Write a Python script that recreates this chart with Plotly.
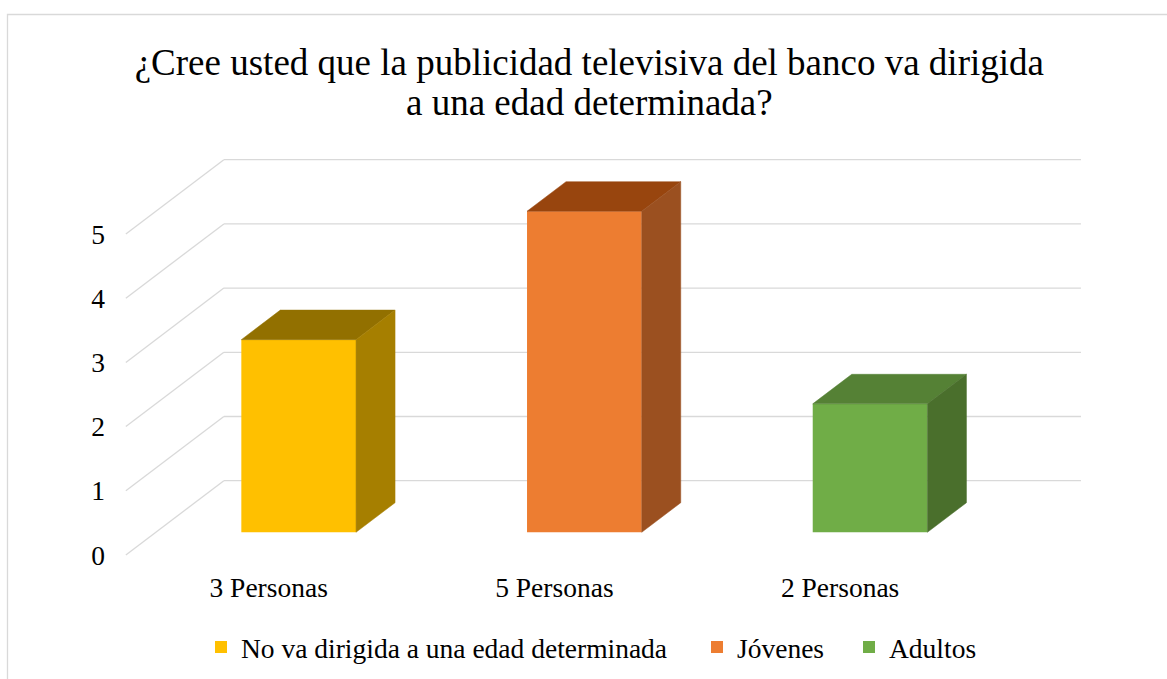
import plotly.graph_objects as go

# ---- data ----
categories = ["3 Personas", "5 Personas", "2 Personas"]
series_names = ["No va dirigida a una edad determinada", "Jóvenes", "Adultos"]
values = [3, 5, 2]
y_ticks = [0, 1, 2, 3, 4, 5]
front_colors = ["#FFC000", "#ED7D31", "#70AD47"]
top_colors = ["#927000", "#98450E", "#558135"]
side_colors = ["#A67F00", "#9B5020", "#4A6F2C"]

FONT = "Liberation Serif"
GRID = "#D9D9D9"
TXT = 27.5

# ---- layout geometry (pixels) ----
W, H = 1167, 679
L, R, T, B = 112, 1100, 130, 568
PX_X = 285.7   # px per category step
PX_Y = 64.2    # px per value unit
X0_PX = 268.7  # pixel of category 0 on front plane
Y0_PX = 555.0  # pixel of value 0 on front plane

x_range = [(L - X0_PX) / PX_X, (R - X0_PX) / PX_X]
y_range = [(Y0_PX - B) / PX_Y, (Y0_PX - T) / PX_Y]

# 3-D depth in data units
DEPTH_X = 98.0 / PX_X
DEPTH_Y = 74.3 / PX_Y
F_FRONT = 0.306
F_BACK = 0.704
BAR_W = 0.4015

pw, ph = R - L, B - T
legend_ids = ["legend", "legend2", "legend3"]
legend_left_px = [201, 697, 849]

fig = go.Figure()

ox = F_FRONT * DEPTH_X
oy = F_FRONT * DEPTH_Y
ddx = (F_BACK - F_FRONT) * DEPTH_X
ddy = (F_BACK - F_FRONT) * DEPTH_Y

for i, (name, v) in enumerate(zip(series_names, values)):
    fig.add_trace(go.Bar(
        x=[i + ox], y=[v], base=[oy], width=[BAR_W],
        name=name, marker=dict(color=front_colors[i], line=dict(width=0)),
        legend=legend_ids[i], hoverinfo="skip",
    ))

for i, v in enumerate(values):
    x0 = i + ox - BAR_W / 2
    x1 = x0 + BAR_W
    # top face
    fig.add_trace(go.Scatter(
        x=[x0, x1, x1 + ddx, x0 + ddx, x0],
        y=[oy + v, oy + v, oy + v + ddy, oy + v + ddy, oy + v],
        mode="lines", fill="toself", fillcolor=top_colors[i],
        line=dict(color=top_colors[i], width=0.5),
        showlegend=False, hoverinfo="skip",
    ))
    # side face
    fig.add_trace(go.Scatter(
        x=[x1, x1, x1 + ddx, x1 + ddx, x1],
        y=[oy, oy + v, oy + v + ddy, oy + ddy, oy],
        mode="lines", fill="toself", fillcolor=side_colors[i],
        line=dict(color=side_colors[i], width=0.5),
        showlegend=False, hoverinfo="skip",
    ))

# gridlines (side wall diagonals + back wall horizontals)
x_left = -0.5
x_right = len(categories) - 0.5
shapes = []
for t in y_ticks:
    shapes.append(dict(type="line", xref="x", yref="y", layer="below",
                       x0=x_left, y0=t, x1=x_left + DEPTH_X, y1=t + DEPTH_Y,
                       line=dict(color=GRID, width=1.3)))
    shapes.append(dict(type="line", xref="x", yref="y", layer="below",
                       x0=x_left + DEPTH_X, y0=t + DEPTH_Y,
                       x1=x_right + DEPTH_X, y1=t + DEPTH_Y,
                       line=dict(color=GRID, width=1.3)))

# chart border
shapes.append(dict(type="rect", xref="paper", yref="paper", layer="below",
                   x0=(7.5 - L) / pw, x1=(1185 - L) / pw,
                   y0=(B - 700) / ph, y1=(B - 14.5) / ph,
                   line=dict(color=GRID, width=1.3), fillcolor="rgba(0,0,0,0)"))

title_text = ('<span style="font-size:37px">¿Cree usted que la publicidad televisiva del banco va dirigida</span>'
              '<br><span style="font-size:37px">a una edad determinada?</span>')

legend_common = dict(orientation="h", xanchor="left", y=(B - 647) / ph, yanchor="middle",
                     font=dict(family=FONT, size=TXT, color="black"),
                     bgcolor="rgba(0,0,0,0)", itemwidth=30)

fig.update_layout(
    width=W, height=H,
    margin=dict(l=L, r=W - R, t=T, b=H - B, autoexpand=False),
    paper_bgcolor="white", plot_bgcolor="white",
    barmode="overlay",
    shapes=shapes,
    title=dict(text=title_text, font=dict(family=FONT, size=31, color="black"),
               x=0.505, xanchor="center", xref="container",
               y=1 - 75 / H, yanchor="top", yref="container"),
    xaxis=dict(range=x_range, showgrid=False, zeroline=False, showline=False,
               tickvals=list(range(len(categories))), ticktext=categories,
               ticks="", tickfont=dict(family=FONT, size=TXT, color="black"),
               fixedrange=True),
    yaxis=dict(range=y_range, showgrid=False, zeroline=False, showline=False,
               tickvals=y_ticks, ticks="", ticklabelstandoff=6,
               tickfont=dict(family=FONT, size=TXT, color="black"),
               fixedrange=True),
    legend=dict(x=(legend_left_px[0] - L) / pw, **legend_common),
    legend2=dict(x=(legend_left_px[1] - L) / pw, **legend_common),
    legend3=dict(x=(legend_left_px[2] - L) / pw, **legend_common),
    showlegend=True,
)

fig.write_html("out.html")
